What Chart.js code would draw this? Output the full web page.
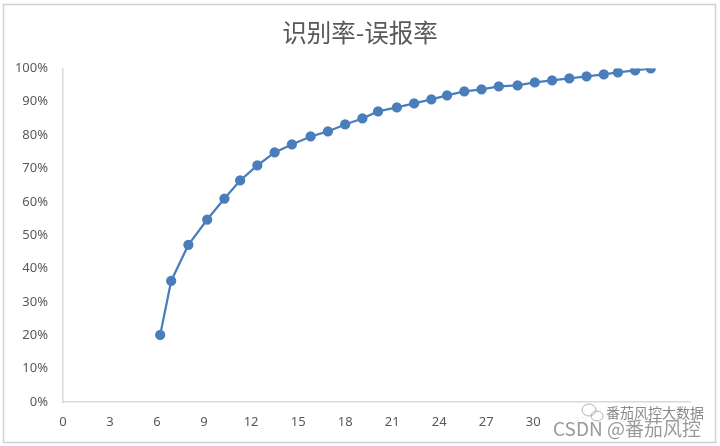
<!DOCTYPE html>
<html>
<head>
<meta charset="utf-8">
<script src="https://cdn.jsdelivr.net/npm/chart.js@4/dist/chart.umd.min.js"></script>
<style>
html,body{margin:0;padding:0;background:#fff;}
#wrap{position:relative;width:720px;height:446px;}
</style>
</head>
<body>
<div id="wrap"><canvas id="c" width="720" height="446"></canvas></div>
<script>
const chartTitle = '识别率-误报率';
const falseAlarmX = [6.2, 6.9, 8.0, 9.2, 10.3, 11.3, 12.4, 13.5, 14.6, 15.8, 16.9, 18.0, 19.1, 20.1, 21.3, 22.4, 23.5, 24.5, 25.6, 26.7, 27.8, 29.0, 30.1, 31.2, 32.3, 33.4, 34.5, 35.4, 36.5, 37.5];
const recallY = [20.1, 36.3, 47.1, 54.7, 61.0, 66.4, 70.9, 74.8, 77.2, 79.6, 81.1, 83.2, 85.0, 87.1, 88.3, 89.5, 90.7, 91.9, 93.1, 93.7, 94.6, 94.9, 95.8, 96.4, 97.0, 97.6, 98.2, 98.8, 99.4, 100.0];
const watermarkLines = ['番茄风控大数据', 'CSDN @番茄风控'];

const points = falseAlarmX.map((x, i) => ({x: x, y: recallY[i]}));

const frame = {
  id: 'frame',
  afterLayout(chart) {
    if (chart.titleBlock) {
      chart.titleBlock.left = 0;
      chart.titleBlock.right = chart.width;
    }
  },
  beforeDraw(chart) {
    const ctx = chart.ctx;
    ctx.save();
    ctx.fillStyle = '#fff';
    ctx.fillRect(0, 0, chart.width, chart.height);
    ctx.restore();
  },
  afterDraw(chart) {
    const ctx = chart.ctx;
    ctx.save();
    ctx.strokeStyle = '#d0d0d0';
    ctx.lineWidth = 1.5;
    ctx.strokeRect(3.5, 4.5, 712, 438);
    ctx.fillStyle = 'rgba(255,255,255,0.92)';
    ctx.fillRect(548, 404, 160, 36);
    // wechat-like icon
    ctx.strokeStyle = '#b0b0b0';
    ctx.lineWidth = 1;
    ctx.beginPath(); ctx.ellipse(589, 410, 7, 6, 0, 0, Math.PI * 2); ctx.stroke();
    ctx.beginPath(); ctx.ellipse(597, 416, 6, 5, 0, 0, Math.PI * 2); ctx.stroke();
    ctx.fillStyle = '#8a8a8a';
    ctx.font = '14px "Noto Sans CJK SC"';
    ctx.textBaseline = 'middle';
    ctx.textAlign = 'left';
    ctx.fillText(watermarkLines[0], 606, 413);
    ctx.fillStyle = 'rgba(120,120,120,0.75)';
    ctx.font = '19px "Noto Sans CJK SC"';
    ctx.fillText(watermarkLines[1], 553, 429);
    ctx.restore();
  }
};

new Chart(document.getElementById('c'), {
  type: 'scatter',
  data: {
    datasets: [{
      data: points,
      showLine: true,
      borderColor: '#4a7ebb',
      backgroundColor: '#4a7ebb',
      borderWidth: 2.25,
      pointRadius: 4,
      pointHoverRadius: 4,
      tension: 0
    }]
  },
  options: {
    responsive: false,
    animation: false,
    layout: {padding: {left: 0, right: 30, top: 0, bottom: 10}},
    plugins: {
      legend: {display: false},
      tooltip: {enabled: false},
      title: {
        display: true,
        text: chartTitle,
        color: '#595959',
        font: {family: '"Noto Sans CJK SC", "Noto Sans", sans-serif', size: 24.5, weight: 'normal', lineHeight: 1.2},
        padding: {top: 18, bottom: 21}
      }
    },
    scales: {
      x: {
        type: 'linear',
        min: 0,
        max: 40,
        grid: {display: false, drawTicks: false},
        border: {color: '#d9d9d9', width: 1.5},
        ticks: {
          stepSize: 3,
          includeBounds: false,
          color: '#595959',
          padding: 12,
          maxRotation: 0,
          autoSkip: false,
          font: {family: '"Noto Sans", "DejaVu Sans", sans-serif', size: 13}
        },
        afterFit(s) { s.height = 34; }
      },
      y: {
        type: 'linear',
        min: 0,
        max: 100,
        grid: {display: false, drawTicks: false},
        border: {color: '#d9d9d9', width: 1.5},
        ticks: {
          stepSize: 10,
          color: '#595959',
          padding: 15,
          font: {family: '"Noto Sans", "DejaVu Sans", sans-serif', size: 13},
          callback: v => v + '%'
        },
        afterFit(s) { s.width = 63; }
      }
    }
  },
  plugins: [frame]
});
</script>
</body>
</html>
